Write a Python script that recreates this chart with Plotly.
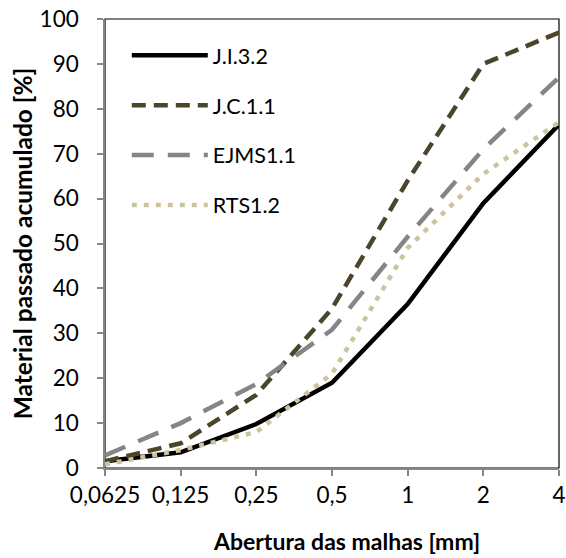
import math
import plotly.graph_objects as go

sizes = [0.0625, 0.125, 0.25, 0.5, 1, 2, 4]
size_labels = ["0,0625", "0,125", "0,25", "0,5", "1", "2", "4"]

ji32 = [1.5, 3.5, 9.8, 19.0, 36.5, 59.0, 76.5]
jc11 = [1.5, 5.5, 16.3, 35.5, 64.0, 90.0, 97.0]
ejms11 = [2.8, 10.0, 18.7, 30.8, 51.5, 71.0, 87.0]
rts12 = [0.8, 4.0, 8.0, 21.0, 49.0, 65.5, 77.0]

y_ticks = list(range(0, 101, 10))

FONT = "Lato"

fig = go.Figure()
series = [
    ("J.I.3.2", ji32, "#000000", "solid"),
    ("J.C.1.1", jc11, "#4b452c", "14px,8px"),
    ("EJMS1.1", ejms11, "#858585", "22px,14px"),
    ("RTS1.2", rts12, "#cdc39d", "5px,7px"),
]
for i, (name, vals, col, dash) in enumerate(series):
    fig.add_trace(go.Scatter(
        x=sizes, y=vals, name=name, mode="lines",
        line=dict(color=col, width=4.5, dash=dash),
        legendgroup=f"g{i}",
    ))

fig.update_layout(
    width=566, height=558,
    margin=dict(l=105, r=7, t=19, b=90),
    paper_bgcolor="white", plot_bgcolor="white",
    font=dict(family=FONT, size=22, color="#000000"),
    showlegend=True,
    legend=dict(
        x=0.048, y=0.965, xanchor="left", yanchor="top",
        bgcolor="rgba(0,0,0,0)", borderwidth=0,
        font=dict(family=FONT, size=21.5, color="#000000"),
        itemwidth=76, tracegroupgap=19,
    ),
    xaxis=dict(
        type="log",
        range=[math.log10(sizes[0]), math.log10(sizes[-1])],
        tickvals=sizes, ticktext=size_labels,
        ticks="outside", ticklen=6, tickcolor="#868686", tickwidth=1.5,
        showline=True, linecolor="#868686", linewidth=1.5,
        showgrid=False, zeroline=False, automargin=False,
        ticklabeloverflow="allow",
        tickfont=dict(family=FONT, size=22.5),
    ),
    yaxis=dict(
        range=[0, 100], tickvals=y_ticks,
        ticks="outside", ticklen=6, tickcolor="#868686", tickwidth=1.5,
        showline=True, linecolor="#868686", linewidth=1.5,
        showgrid=False, zeroline=False, automargin=False,
        ticklabeloverflow="allow", ticklabelstandoff=14,
        tickfont=dict(family=FONT, size=22.5),
        title=dict(text="<b>Material passado acumulado [%]</b>",
                   font=dict(family=FONT, size=24.5), standoff=0),
    ),
    annotations=[dict(
        text="<b>Abertura das malhas [mm]</b>", xref="paper", yref="paper",
        x=0.533, y=-0.162, xanchor="center", yanchor="middle", showarrow=False,
        font=dict(family=FONT, size=23, color="#000000"),
    )],
    shapes=[dict(type="rect", xref="paper", yref="paper", x0=0, y0=0, x1=1, y1=1,
                 line=dict(color="#000000", width=1.2), layer="below")],
)

fig.write_html(
    "out.html",
    config={"displayModeBar": False},
    post_script="document.body.style.margin='0px';document.body.style.overflow='hidden';",
)
